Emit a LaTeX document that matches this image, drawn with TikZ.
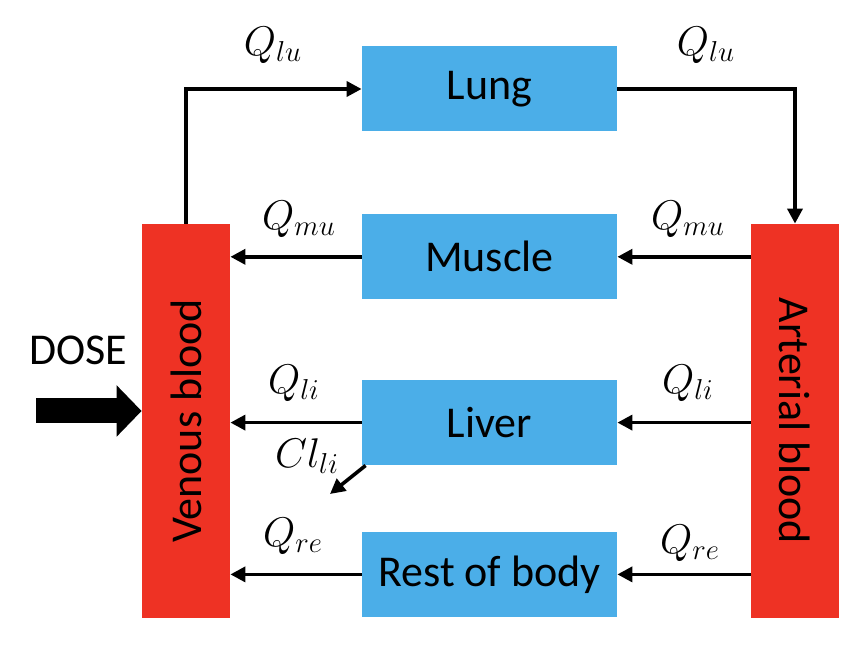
\documentclass[tikz,border=0pt]{standalone}
\usepackage{amsmath,amssymb}
\usepackage{fontspec}
\setmainfont{Carlito}
\usepackage{tikz}
\usetikzlibrary{positioning,arrows.meta,calc}

\definecolor{organblue}{HTML}{4BAEE8}
\definecolor{bloodred}{HTML}{EE3224}

\tikzset{
  organ/.style={fill=organblue, minimum width=127.5pt, minimum height=42.5pt,
    inner sep=0pt, font=\fontsize{22}{26}\selectfont},
  blood/.style={fill=bloodred, minimum width=44pt, minimum height=197pt,
    inner sep=0pt, font=\fontsize{22}{26}\selectfont},
  flow/.style={-{Triangle[length=7.5pt,width=7.5pt]}, line width=1.8pt},
  rate/.style={font=\fontsize{21.5}{25}\selectfont, inner sep=0pt},
}

\begin{document}
\begin{tikzpicture}[x=0.5pt,y=-0.5pt]
  \useasboundingbox (0,0) rectangle (864,652);

  \node[organ] (lung) at (489.5,89) {Lung};
  \node[organ] (mus) [below=41pt of lung] {Muscle};
  \node[organ] (liv) [below=40pt of mus] {Liver};
  \node[organ] (rest) [below=33pt of liv] {Rest of body};

  \node[blood] (ven) at (186,421) {};
  \node[rotate=90, font=\fontsize{22}{26}\selectfont] (vent) at (ven.center) {Venous blood};
  \node[blood] (art) at (795,421) {};
  \node[rotate=-90, font=\fontsize{22}{26}\selectfont] (artt) at (art.center) {Arterial blood};

  \node[font=\fontsize{22}{26}\selectfont] (dose) at (78,350) {DOSE};
  \coordinate (dosein) at (36,411);
  \coordinate (clout) at (330,494);

  \path[flow] (ven.north) edge[to path={|- (\tikztotarget)}] (lung.west);
  \path[flow] (lung.east) edge[to path={-| (\tikztotarget)}] (art.north);
  \path[flow] (mus.west) edge (ven.east |- mus.west);
  \path[flow] (art.west |- mus.west) edge (mus.east);
  \path[flow] (liv.west) edge (ven.east |- liv.west);
  \path[flow] (art.west |- liv.west) edge (liv.east);
  \path[flow] (rest.west) edge (ven.east |- rest.west);
  \path[flow] (art.west |- rest.west) edge (rest.east);
  \path[flow] ($(liv.south west)+(4,0)$) edge (clout);
  \path[-{Triangle[length=12.5pt,width=25pt]}, line width=12.5pt] (dosein) edge (ven.west |- dosein);

  \node[rate] (q1) at (273,45) {$Q_{lu}$};
  \node[rate] (q2) at (706,45) {$Q_{lu}$};
  \node[rate] (q3) at (299,219) {$Q_{mu}$};
  \node[rate] (q4) at (688,219) {$Q_{mu}$};
  \node[rate] (q5) at (294,383) {$Q_{li}$};
  \node[rate] (q6) at (688,383) {$Q_{li}$};
  \node[rate] (cl) at (307,456) {$Cl_{li}$};
  \node[rate] (q7) at (293,536) {$Q_{re}$};
  \node[rate] (q8) at (690,543) {$Q_{re}$};

\end{tikzpicture}
\end{document}
